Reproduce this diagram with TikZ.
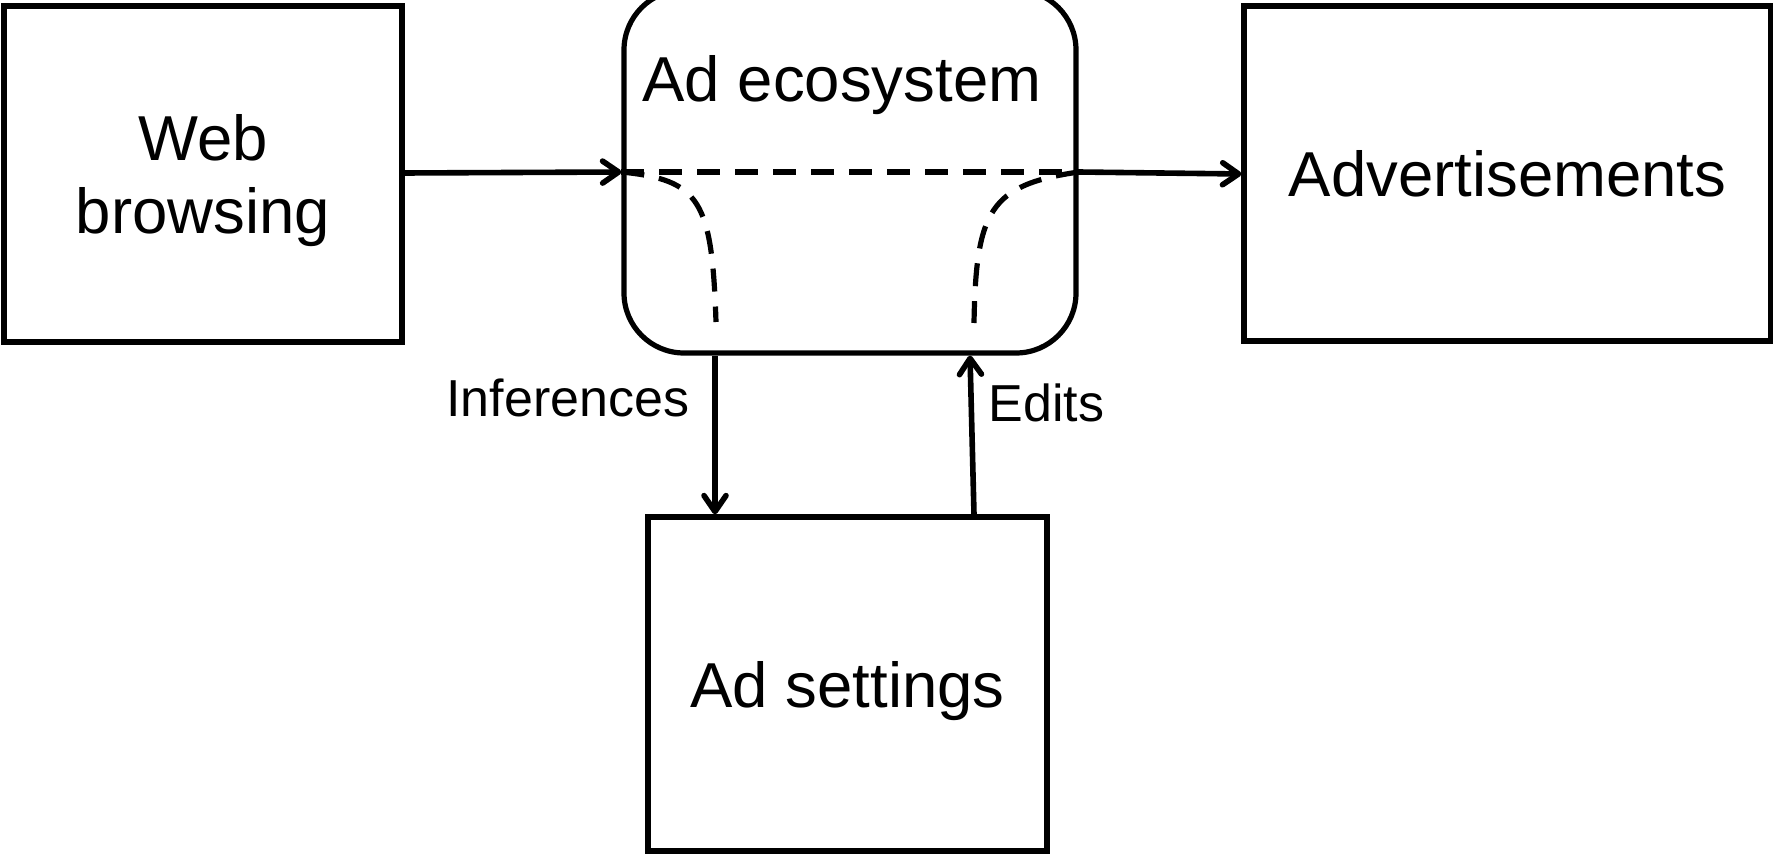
\documentclass[tikz,border=0pt]{standalone}
\usepackage{fontspec}
\setmainfont{Liberation Sans}
\usetikzlibrary{arrows.meta}
\begin{document}
\begin{tikzpicture}[x=0.5pt,y=-0.5pt,
  box/.style={draw, line width=2.6pt, inner sep=0pt, text depth=0pt, align=center,
    font=\fontsize{31.75pt}{36.5pt}\selectfont},
  lbl/.style={inner sep=0pt, font=\fontsize{26pt}{30pt}\selectfont},
  conn/.style={line width=2.8pt, -{Straight Barb[length=8pt,width=11pt,round]}},
  dsh/.style={line width=2.6pt, dash pattern=on 11.5pt off 7.5pt}]
\useasboundingbox (0,0) rectangle (1773,855);
% boxes
\node[box, minimum width=199pt, minimum height=168pt] (web) at (203,174) {Web\\browsing};
\node[box, rounded corners=30pt, minimum width=226pt, minimum height=181.5pt] (eco) at (850,171.5) {};
\node[lbl, anchor=base, font=\fontsize{31.75pt}{36.5pt}\selectfont] (ecot) at (842,102) {Ad ecosystem};
\node[box, minimum width=263.5pt, minimum height=167.5pt] (adv) at (1507.5,173.5) {Advertisements};
\node[box, minimum width=199.5pt, minimum height=167pt] (set) at (847.5,684) {Ad settings};
% helper coordinates
\coordinate (yl) at (0,173);
\coordinate (ym) at (0,172);
\coordinate (yr) at (0,174);
\coordinate (xi) at (715,0);
\coordinate (xe1) at (974,0);
\coordinate (xe2) at (970,0);
\coordinate (cl) at (716,322);
\coordinate (cr) at (974,323);
% connectors
\draw[conn] (web.east |- yl) -- (eco.west |- ym);
\draw[conn] (eco.east |- ym) -- (adv.west |- yr);
\draw[conn] (xi |- eco.south) -- node[lbl, pos=0.384, anchor=base east, xshift=-11.5pt] (inf) {Inferences} (xi |- set.north);
\draw[conn] (xe1 |- set.north) -- node[lbl, pos=0.586, anchor=base west, xshift=7pt] (edt) {Edits} (xe2 |- eco.south);
% dashed lines inside the ecosystem
\draw[dsh] (eco.west |- ym) -- (eco.east |- ym);
\draw[dsh] (eco.west |- ym) .. controls (700,180) and (712,200) .. (cl);
\draw[dsh] (eco.east |- ym) .. controls (990,185) and (976,210) .. (cr);
\end{tikzpicture}
\end{document}
